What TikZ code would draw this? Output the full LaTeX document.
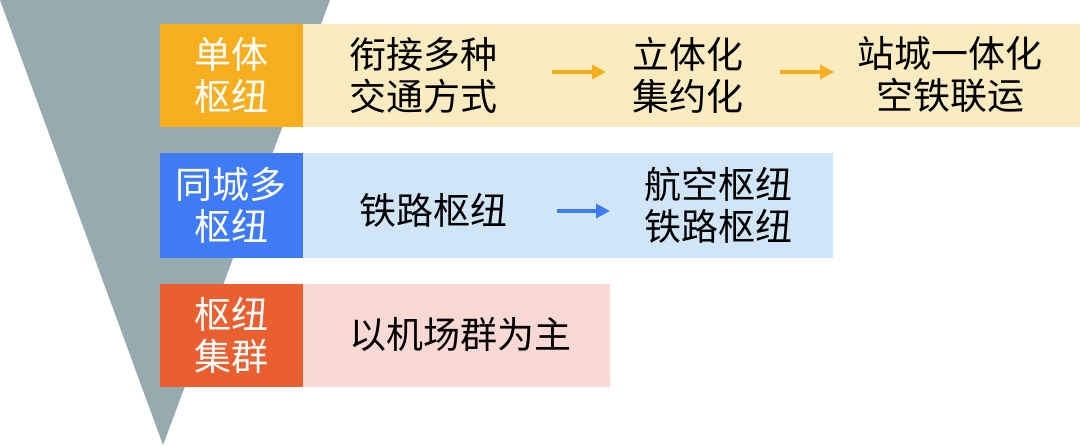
\documentclass[tikz,border=0pt]{standalone}
\usepackage{fontspec}
\setmainfont{Noto Sans CJK SC}
\usetikzlibrary{arrows.meta}

\definecolor{funnel}{HTML}{97AAB0}
\definecolor{ora}{HTML}{F6AE1E}
\definecolor{oraL}{HTML}{FAEBC0}
\definecolor{blu}{HTML}{3F7BF6}
\definecolor{bluL}{HTML}{D0E5F8}
\definecolor{red}{HTML}{EA5F2F}
\definecolor{redL}{HTML}{FAD8D3}

\begin{document}
\begin{tikzpicture}[x=0.5pt,y=-0.5pt,
  every node/.style={font=\fontsize{18.5}{21}\selectfont,inner sep=0pt},
  tag/.style={text=white,align=center},
  txt/.style={align=center},
  flow/.style={-{Triangle[length=7pt,width=7pt]},line width=2.2pt}]

  \useasboundingbox (0,0) rectangle (1080,445);

  % funnel
  \fill[funnel] (0,0) -- (330,0) -- (163,445) -- cycle;

  % Row 1: single hub
  \fill[oraL] (303,24) rectangle (1080,127);
  \fill[ora] (160,24) rectangle (303,127);
  \node[tag] (r1) at (231,75) {单体\\枢纽};
  \node[txt] (r1a) at (423,75) {衔接多种\\交通方式};
  \node[txt] (r1b) at (688,75) {立体化\\集约化};
  \node[txt] (r1c) at (950,75) {站城一体化\\空铁联运};
  \coordinate (a1s) at (552,72);
  \coordinate (a1e) at (606,72);
  \coordinate (a2s) at (780,72);
  \coordinate (a2e) at (834,72);
  \draw[flow,ora] (a1s) -- (a1e);
  \draw[flow,ora] (a2s) -- (a2e);

  % Row 2: multiple hubs in one city
  \fill[bluL] (303,153) rectangle (833,258);
  \fill[blu] (160,153) rectangle (303,258);
  \node[tag] (r2) at (231,205) {同城多\\枢纽};
  \node[txt] (r2a) at (433,210) {铁路枢纽};
  \node[txt] (r2b) at (718,205) {航空枢纽\\铁路枢纽};
  \coordinate (b1s) at (557,211);
  \coordinate (b1e) at (610,211);
  \draw[flow,blu] (b1s) -- (b1e);

  % Row 3: hub cluster
  \fill[redL] (303,284) rectangle (610,387);
  \fill[red] (160,284) rectangle (303,387);
  \node[tag] (r3) at (231,335) {枢纽\\集群};
  \node[txt] (r3a) at (460,335) {以机场群为主};

\end{tikzpicture}
\end{document}
